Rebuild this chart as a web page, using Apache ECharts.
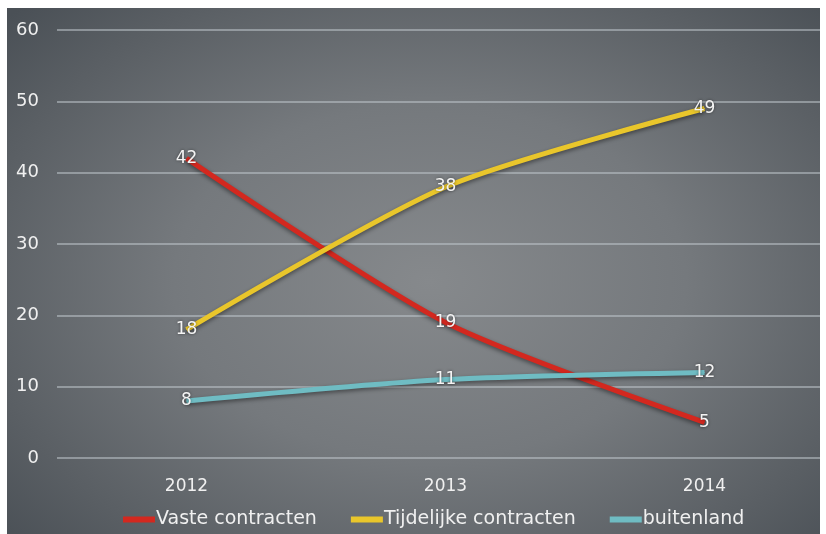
<!DOCTYPE html>
<html>
<head>
<meta charset="utf-8">
<script src="https://cdn.jsdelivr.net/npm/echarts@6/dist/echarts.min.js"></script>
<style>
  html, body { margin: 0; padding: 0; background: #ffffff; overflow: hidden; }
  #frame {
    position: absolute; left: 7px; top: 8px; width: 813px; height: 526px;
    background: radial-gradient(ellipse 70% 75% at 52% 52%, #86898c 0%, #75797d 45%, #5a5f64 80%, #4a5056 100%);
    overflow: hidden;
  }
  #chart { position: absolute; left: -7px; top: -8px; width: 850px; height: 534px; }
</style>
</head>
<body>
<div id="frame"><div id="chart"></div></div>
<script>
  const years = ['2012', '2013', '2014'];
  const vaste = [42, 19, 5];
  const tijdelijk = [18, 38, 49];
  const buitenland = [8, 11, 12];
  const seriesNames = ['Vaste contracten', 'Tijdelijke contracten', 'buitenland'];
  const colors = ['#d3281f', '#e9c62b', '#6fbcc3'];

  const font = '"DejaVu Sans", sans-serif';
  const chart = echarts.init(document.getElementById('chart'), null, { renderer: 'canvas' });

  function makeSeries(name, data, color) {
    return {
      name: name,
      type: 'line',
      data: data,
      smooth: 0.25,
      symbol: 'circle',
      symbolSize: 1,
      itemStyle: { color: color },
      lineStyle: {
        color: color, width: 5,
        shadowColor: 'rgba(0,0,0,0.45)', shadowBlur: 4, shadowOffsetY: 2
      },
      label: {
        show: true,
        position: 'inside',
        color: '#f4f4f4',
        fontFamily: font,
        fontSize: 17,
        textShadowColor: 'rgba(0,0,0,0.5)',
        textShadowBlur: 3
      },
      emphasis: { disabled: true }
    };
  }

  chart.setOption({
    animation: false,
    backgroundColor: 'transparent',
    grid: { left: 57, top: 30, width: 777, bottom: 76, containLabel: false },
    legend: {
      bottom: 0,
      left: 118,
      itemWidth: 32,
      itemHeight: 6,
      itemGap: 34,
      icon: 'rect',
      textStyle: { color: '#f0f0f0', fontFamily: font, fontSize: 19, padding: [0, 0, 0, -4] },
      data: seriesNames
    },
    xAxis: {
      type: 'category',
      data: years,
      boundaryGap: true,
      axisLine: { show: false },
      axisTick: { show: false },
      axisLabel: { color: '#f0f0f0', fontFamily: font, fontSize: 17, margin: 20 }
    },
    yAxis: {
      type: 'value',
      min: 0, max: 60, interval: 10,
      axisLine: { show: false },
      axisTick: { show: false },
      axisLabel: { color: '#f0f0f0', fontFamily: font, fontSize: 18, margin: 18 },
      splitLine: { lineStyle: { color: 'rgba(190,196,202,0.55)', width: 2 } }
    },
    series: [
      makeSeries(seriesNames[0], vaste, colors[0]),
      makeSeries(seriesNames[1], tijdelijk, colors[1]),
      makeSeries(seriesNames[2], buitenland, colors[2])
    ]
  });
</script>
</body>
</html>
